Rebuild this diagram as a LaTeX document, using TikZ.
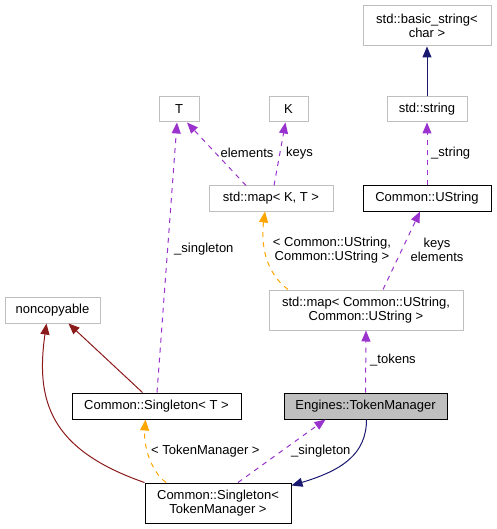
\documentclass[tikz,border=0pt]{standalone}
\usepackage{fontspec}
\setmainfont{Liberation Sans}
\usetikzlibrary{arrows.meta}
\definecolor{cpurple}{HTML}{9A32CD}
\definecolor{corange}{HTML}{FFA500}
\definecolor{cnavy}{HTML}{191970}
\definecolor{cred}{HTML}{8B1A1A}
\definecolor{cgray}{HTML}{BFBFBF}
\begin{document}
\begin{tikzpicture}[x=1pt,y=-1pt,
  every node/.style={font=\fontsize{13}{14}\selectfont},
  box/.style={draw=cgray,line width=1pt,inner sep=0pt,align=center},
  bbox/.style={box,draw=black},
  tip/.style={-{Triangle[length=11pt,width=9pt]}},
  usage/.style={tip,draw=cpurple,dash pattern=on 5pt off 5pt,line width=1pt},
  tmpl/.style={tip,draw=corange,dash pattern=on 5pt off 5pt,line width=1pt},
  inh/.style={tip,draw=cnavy,line width=1pt},
  priv/.style={tip,draw=cred,line width=1pt},
  lbl/.style={inner sep=0pt,align=center}]
\useasboundingbox (0,0) rectangle (496,529);
% nodes
\node[box,minimum width=128pt,minimum height=40pt] (basic) at (427,26) {std::basic\_string<\\char >};
\node[box,minimum width=40pt,minimum height=25pt] (T) at (179,109.5) {T};
\node[box,minimum width=39pt,minimum height=25pt] (K) at (288.5,109.5) {K};
\node[box,minimum width=80pt,minimum height=25pt] (str) at (427,109.5) {std::string};
\node[box,minimum width=124pt,minimum height=25pt] (mapKT) at (271,198.5) {std::map< K, T >};
\node[bbox,minimum width=128pt,minimum height=25pt] (ustr) at (427,198.5) {Common::UString};
\node[box,minimum width=95pt,minimum height=26pt] (nc) at (52.5,310) {noncopyable};
\node[box,minimum width=194pt,minimum height=40pt] (map2) at (366,310) {std::map< Common::UString,\\Common::UString >};
\node[bbox,minimum width=169pt,minimum height=26pt] (singT) at (156.5,406) {Common::Singleton< T >};
\node[bbox,fill=cgray,minimum width=163pt,minimum height=26pt] (tm) at (365.5,406) {Engines::TokenManager};
\node[bbox,minimum width=146pt,minimum height=40pt] (singTM) at (218,503) {Common::Singleton<\\TokenManager >};
% edges
\draw[inh] (str.north) -- (basic.south);
\draw[usage] (ustr.north) -- (str.south);
\node[lbl,anchor=west] (l1) at (431,153) {\_string};
\draw[usage] ([xshift=-25pt]mapKT.north) -- ([xshift=8pt]T.south);
\node[lbl] (l2) at (247,153) {elements};
\draw[usage] ([xshift=3pt]mapKT.north) -- ([xshift=-3pt]K.south);
\node[lbl] (l3) at (299.5,153) {keys};
\draw[usage] ([xshift=0.5pt]singT.north) -- ([xshift=-2pt]T.south);
\node[lbl,anchor=west] (l4) at (174,249) {\_singleton};
\draw[tmpl] ([xshift=-78pt]map2.north) .. controls +(-24,-18) and +(-4,30) .. ([xshift=-6pt]mapKT.south);
\node[lbl] (l5) at (332,249.7) {< Common::UString,\\Common::UString >};
\draw[usage] ([xshift=17pt]map2.north) -- ([xshift=-7pt]ustr.south);
\node[lbl] (l6) at (437,249.7) {keys\\elements};
\draw[usage] (tm.north) -- (map2.south);
\node[lbl,anchor=west] (l7) at (370,360) {\_tokens};
\draw[priv] ([xshift=-14pt]singT.north) -- ([xshift=16pt]nc.south);
\draw[priv] (singTM.north west) .. controls +(-95,-33) and +(-11,77) .. ([xshift=-6pt]nc.south);
\draw[tmpl] ([xshift=-52pt]singTM.north) .. controls +(-16,-12) and +(-2,25) .. ([xshift=-11pt]singT.south);
\node[lbl,anchor=west] (l8) at (151,450.7) {< TokenManager >};
\draw[usage] ([xshift=20pt]singTM.north) -- ([xshift=-40pt]tm.south);
\node[lbl,anchor=west] (l9) at (291,450.7) {\_singleton};
\draw[inh] ([xshift=1pt]tm.south) .. controls +(0,35) and +(50,-15) .. ([yshift=-3pt]singTM.north east);
\end{tikzpicture}
\end{document}
